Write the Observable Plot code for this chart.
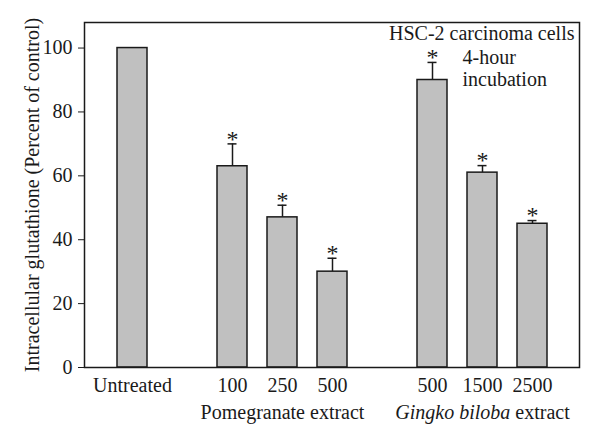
<!DOCTYPE html>
<html><head><meta charset="utf-8">
<script src="https://cdn.jsdelivr.net/npm/d3@7"></script>
<script src="https://cdn.jsdelivr.net/npm/@observablehq/plot@0.6"></script>
<style>body{margin:0;background:#fff}</style>
</head><body><div id="chart"></div>
<script>
const slots = ["Untreated","gap1","P100","P250","P500","gap2","G500","G1500","G2500"];
const slotLabels = ["Untreated","","100","250","500","","500","1500","2500"];
const barKeys = ["Untreated","P100","P250","P500","G500","G1500","G2500"];
const means = [100,63,47,30,90,61,45];
const errors = [0,7,3.8,4.2,5.5,2.2,1];
const starred = [false,true,true,true,true,true,true];
const groupKeys = ["P250","G1500"];
const groupLabels = ["Pomegranate extract","Gingko biloba extract"];
const yTicks = [0,20,40,60,80,100];
const yLabel = "Intracellular glutathione (Percent of control)";
const noteTitle = "HSC-2 carcinoma cells";
const noteSub = "4-hour\nincubation";

const bars = barKeys.map((k,i)=>({key:k, mean:means[i], err:errors[i], top:means[i]+errors[i], star:starred[i]}));
const errBars = bars.filter(d=>d.err>0);
const stars = bars.filter(d=>d.star);
const labelMap = new Map(slots.map((s,i)=>[s, slotLabels[i]]));
const ink = "#1a1a1a";

const chart = Plot.plot({
  width:600, height:444,
  marginLeft:84, marginRight:21, marginTop:22, marginBottom:77,
  style:{fontFamily:'"Liberation Serif", "DejaVu Serif", serif', fontSize:"20px", color:ink, background:"#fff"},
  x:{domain:slots, paddingInner:0.4, paddingOuter:0.65, align:0.5, label:null},
  y:{domain:[0,108], label:null},
  marks:[
    Plot.ruleX(errBars,{x:"key", y1:"mean", y2:"top", stroke:ink, strokeWidth:1.5}),
    Plot.tickY(errBars,{x:"key", y:"top", stroke:ink, strokeWidth:1.5, insetLeft:10.5, insetRight:10.5}),
    Plot.barY(bars,{x:"key", y:"mean", fill:"#c0c0c0", stroke:ink, strokeWidth:1.5}),
    Plot.text(stars,{x:"key", y:"top", text:()=>"*", dy:-5, fontSize:24}),
    Plot.axisY({ticks:yTicks, tickSize:6, tickPadding:6, label:null, fontSize:20}),
    Plot.axisX({tickSize:0, tickPadding:10, tickFormat:d=>labelMap.get(d), label:null, fontSize:20}),
    Plot.text(groupKeys.map((k,i)=>({key:k,label:groupLabels[i]})),{x:"key", text:"label", frameAnchor:"bottom", lineAnchor:"middle", dy:45, fontSize:20}),
    Plot.text([yLabel],{text:d=>d, frameAnchor:"left", textAnchor:"middle", lineAnchor:"middle", rotate:-90, dx:-52, fontSize:20}),
    Plot.text([noteTitle],{text:d=>d, frameAnchor:"top-right", textAnchor:"end", lineAnchor:"middle", dx:-5, dy:11, fontSize:20}),
    Plot.text([noteSub],{text:d=>d, x:()=>"G500", frameAnchor:"top", textAnchor:"start", lineAnchor:"top", dx:30, dy:26, lineHeight:1.1, fontSize:20}),
    Plot.frame({stroke:ink, strokeWidth:1.5})
  ]
});
chart.querySelectorAll("text").forEach(t=>{
  if (t.textContent === "Gingko biloba extract") {
    t.textContent = "";
    const a = document.createElementNS("http://www.w3.org/2000/svg","tspan");
    a.setAttribute("font-style","italic"); a.textContent = "Gingko biloba";
    const b = document.createElementNS("http://www.w3.org/2000/svg","tspan");
    b.textContent = " extract";
    t.appendChild(a); t.appendChild(b);
  }
});
document.getElementById("chart").appendChild(chart);
</script>
</body></html>
